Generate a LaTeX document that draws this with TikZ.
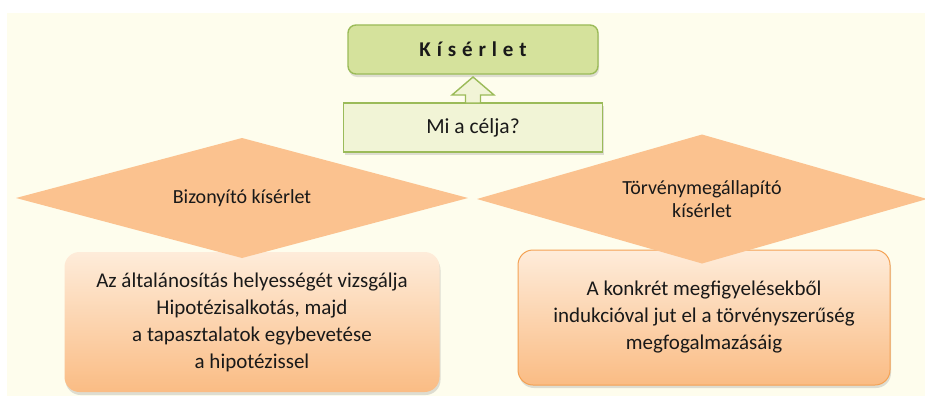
\documentclass[tikz,border=0pt]{standalone}
\usepackage{fontspec}
\setmainfont{Carlito}
\usetikzlibrary{
    calc,
    positioning,
    shadows,
    shapes.geometric
}
\definecolor{cream}{RGB}{254,253,237}
\definecolor{leafgreen}{RGB}{213,226,156}
\definecolor{leafline}{RGB}{155,187,89}
\definecolor{palegreen}{RGB}{241,244,214}
\definecolor{peach}{RGB}{251,194,143}
\definecolor{peachtop}{RGB}{254,236,218}
\definecolor{peachbot}{RGB}{250,188,132}
\definecolor{peachline}{RGB}{244,162,84}
\tikzset{
    every picture/.style = {
        x = 1pt,
        y = -1pt
    },
    every node/.style = {
        inner sep = 1pt,
        outer sep = 0pt,
        align = center,
        text = black!90
    },
    soft shadow/.style = {
        drop shadow = {opacity = 0.25, shadow xshift = 1pt, shadow yshift = -3pt}
    },
    titlebox/.style = {
        draw = leafline, line width = 1.4pt, fill = leafgreen,
        rounded corners = 8pt, soft shadow,
        minimum width = 250pt, minimum height = 49pt,
        font = \fontsize{21}{24}\selectfont\bfseries\addfontfeature{LetterSpace=28}
    },
    questionbox/.style = {
        draw = leafline, line width = 1.4pt, fill = palegreen, soft shadow,
        minimum width = 259pt, minimum height = 49pt,
        font = \fontsize{21.5}{24}\selectfont
    },
    uparrow/.style = {
        draw = leafline, line width = 1.4pt, fill = palegreen
    },
    kind/.style = {
        diamond, aspect = 3.5, fill = peach, inner sep = 0pt,
        font = \fontsize{20}{23}\selectfont
    },
    answerbox/.style = {
        rounded corners = 15pt, top color = peachtop, bottom color = peachbot,
        soft shadow, font = \fontsize{21}{27}\selectfont
    }
}

\begin{document}
\begin{tikzpicture}
    \useasboundingbox (0,0) rectangle (925,396);
    \fill[white] (0,0) rectangle (925,396);
    \fill[cream] (7,13) rectangle (925,396);

    \node[titlebox] (kis) at (473,49.5) {Kísérlet};
    \node[questionbox] (cel) [below = 29pt of kis] {Mi a célja?};
    \draw[uparrow] ($(cel.north)+(-7.5,0)$) -- ++(0,-8) -- ++(-13.5,0)
        -- ($(kis.south)+(0,3)$) -- ($(cel.north)+(21,-8)$) -- ++(-13.5,0)
        -- ($(cel.north)+(7.5,0)$) -- cycle;

    \node[answerbox, minimum width = 375pt, minimum height = 140pt] (bizbox) at (252,322)
        {Az általánosítás helyességét vizsgálja\\Hipotézisalkotás, majd\\a tapasztalatok egybevetése\\a hipotézissel};
    \node[answerbox, draw = peachline, line width = 1pt, minimum width = 372pt, minimum height = 135pt] (torvbox) at (704,317.5)
        {A konkrét megfigyelésekből\\indukcióval jut el a törvényszerűség\\megfogalmazásáig};

    \node[kind, minimum width = 452pt, minimum height = 120pt] (biz) at (242,198) {Bizonyító kísérlet};
    \node[kind, minimum width = 450pt, minimum height = 129pt] (torv) at (702,199) {Törvénymegállapító\\kísérlet};
\end{tikzpicture}
\end{document}
